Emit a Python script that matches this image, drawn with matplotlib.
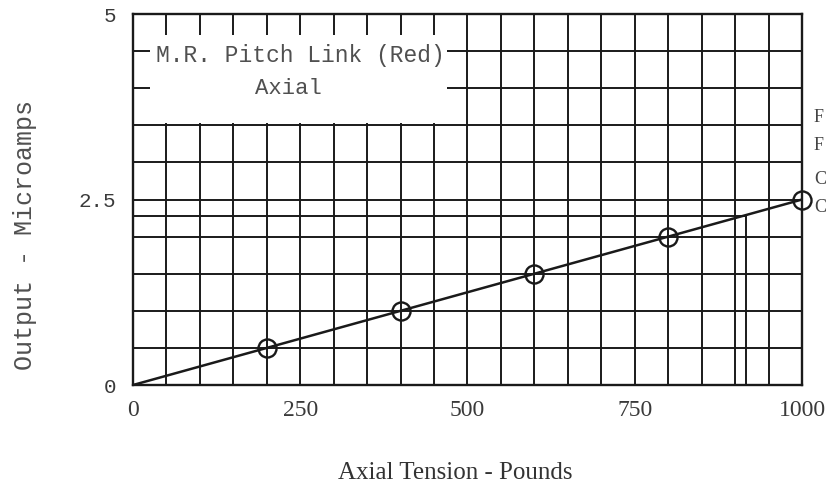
import numpy as np
import matplotlib.pyplot as plt
from matplotlib.patches import Rectangle

# calibration readings, axial tension vs output
tension = [0, 200, 400, 600, 800, 1000]
output = [0, 0.5, 1.0, 1.5, 2.0, 2.5]
x_ticks = [0, 250, 500, 750, 1000]
x_ticklabels = ['0', '250', '500', '750', '1000']
y_ticks = [0, 2.5, 5]
y_ticklabels = ['0', '2.5', '5']
guide_x = 916
guide_y = 2.28

ink = '#1a1a1a'
mono = 'Liberation Mono'
serif = 'Liberation Serif'

fig = plt.figure(figsize=(8.28, 5.01), dpi=100)
ax = fig.add_axes([0.1606, 0.2315, 0.8080, 0.7405])

ax.set_xlim(0, 1000)
ax.set_ylim(0, 5)
ax.set_xticks(x_ticks)
ax.set_xticklabels(x_ticklabels, fontfamily=serif, fontsize=17, color='#3a3a3a')
ax.set_yticks(y_ticks)
ax.set_yticklabels(y_ticklabels, fontfamily=mono, fontsize=15, color='#3a3a3a')
ax.set_xticks(np.arange(0, 1001, 50), minor=True)
ax.set_yticks(np.arange(0, 5.01, 0.5), minor=True)
ax.tick_params(which='both', length=0)
ax.tick_params(axis='x', pad=11)
ax.tick_params(axis='y', pad=12)
ax.grid(which='both', color=ink, linewidth=1.4)
for s in ax.spines.values():
    s.set_color(ink)
    s.set_linewidth(1.7)

# reading guide lines
ax.plot([0, guide_x], [guide_y, guide_y], color=ink, lw=1.4)
ax.plot([guide_x, guide_x], [0, guide_y], color=ink, lw=1.4)

# label box blanking the upper-left grid
ax.add_patch(Rectangle((25, 3.53), 445, 1.19, facecolor='white', edgecolor='none', zorder=2.5))
ax.text(250, 4.44, 'M.R. Pitch Link (Red)', family=mono, fontsize=16.5, color='#505050',
        ha='center', va='center', zorder=3, bbox=dict(facecolor='white', edgecolor='none', pad=1))
ax.text(232, 3.99, 'Axial', family=mono, fontsize=16, color='#505050',
        ha='center', va='center', zorder=3)

ax.plot(tension, output, color=ink, lw=1.8, zorder=4)
ax.plot(tension[1:], output[1:], 'o', ms=13, mfc='none', mec=ink, mew=1.7, zorder=5, clip_on=False)

ax.set_xlabel('Axial Tension - Pounds', family=serif, fontsize=18, color='#333333')
ax.xaxis.label.set_va('center')
ax.xaxis.set_label_coords(0.481, -0.237)
ax.set_ylabel('Output - Microamps', family=mono, fontsize=18, color='#505050')
ax.yaxis.label.set_va('center')
ax.yaxis.set_label_coords(-0.161, 0.404)

# cut-off margin notes on the right edge
for yy, t in zip([118, 145, 180, 208], ['F', 'F', 'C', 'C']):
    fig.text(814 / 828, 1 - yy / 501, t, family=serif, fontsize=13, color='#444444',
             ha='left', va='center')

fig.savefig('out.png', dpi=100)
